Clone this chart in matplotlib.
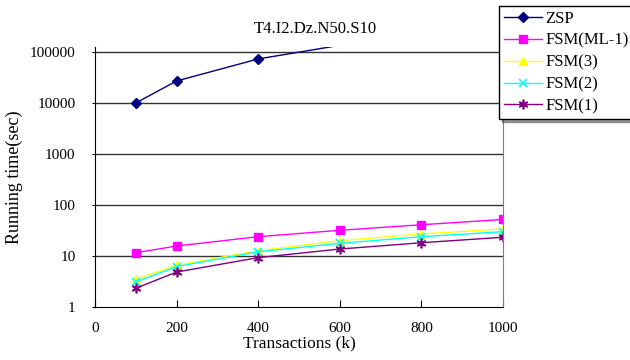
import matplotlib
matplotlib.use('Agg')
import matplotlib.pyplot as plt

plt.rcParams['font.family'] = ['Liberation Serif', 'DejaVu Serif']
plt.rcParams['font.size'] = 11

# transactions (k)
transactions = [100, 200, 400, 600, 800, 1000]
zsp = [10000, 27000, 73000, 135000]
fsm_ml1 = [11.6, 15.7, 23.9, 31.9, 41, 52]
fsm3 = [3.5, 6.6, 12.7, 20, 27, 34]
fsm2 = [3.1, 6.2, 12.1, 17.7, 23.9, 30]
fsm1 = [2.33, 4.85, 9.3, 13.7, 18.2, 23.3]

fig = plt.figure(figsize=(6.3, 3.6), dpi=100)
ax = fig.add_axes([95 / 630, 1 - 307 / 360, 408 / 630, (307 - 46.5) / 360])

# the 600k ZSP point lies above the plot area, only its line shows
ax.plot(transactions[:len(zsp)], zsp, color='#000080', marker='D', markersize=5,
        markevery=[0, 1, 2], lw=1, label='ZSP')
ax.plot(transactions, fsm_ml1, color='#ff00ff', marker='s', markersize=6, lw=1, label='FSM(ML-1)')
ax.plot(transactions, fsm3, color='#ffff00', marker='^', markersize=6, lw=1, label='FSM(3)')
ax.plot(transactions, fsm2, color='#00ffff', marker='x', markersize=6, mew=1.2, lw=1, label='FSM(2)')
ax.plot(transactions, fsm1, color='#800080', marker=(6, 2, 0), markersize=7, mew=1.2, lw=1, label='FSM(1)')

ax.set_yscale('log')
ax.set_ylim(1, 128000)
ax.set_xlim(0, 1000)
ax.set_yticks([1, 10, 100, 1000, 10000, 100000])
ax.set_yticklabels(['1', '10', '100', '1000', '10000', '100000'])
ax.minorticks_off()
ax.set_xticks([0, 200, 400, 600, 800, 1000])
ax.tick_params(axis='x', direction='in', length=5, pad=11)
ax.tick_params(axis='y', direction='out', length=2, pad=12)

for v in [10, 100, 1000, 10000, 100000]:
    ax.axhline(v, color='#333333', lw=1, zorder=0)

ax.spines['top'].set_visible(False)
ax.spines['right'].set_color('#808080')

ax.set_xlabel('Transactions (k)', labelpad=0, fontsize=12.5)
ax.set_ylabel('Running time(sec)', labelpad=5, fontsize=13)
fig.text(315 / 630, 1 - 29 / 360, 'T4.I2.Dz.N50.S10', ha='center', va='center', fontsize=12)

leg = fig.legend(loc='upper left', bbox_to_anchor=(499 / 630, 1 - 6 / 360),
                 frameon=True, fancybox=False, shadow={'ox': 2, 'oy': -2, 'color': '#404040'},
                 handlelength=2.3, handletextpad=0.2, labelspacing=0.35, borderpad=0.3,
                 borderaxespad=0, fontsize=12)
leg.get_frame().set_edgecolor('black')
leg.get_frame().set_linewidth(1)

fig.savefig('out.png', dpi=100)
